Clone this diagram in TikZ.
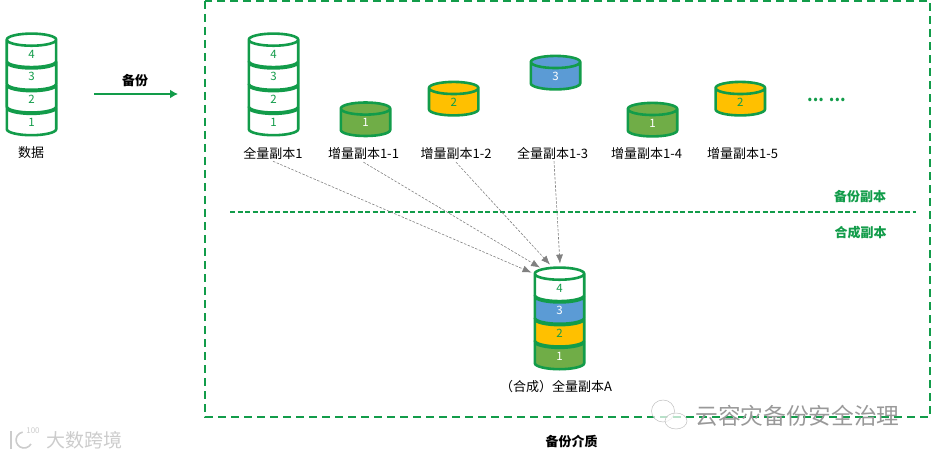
\documentclass[tikz,border=0pt]{standalone}
\usepackage{fontspec}
\setmainfont{Noto Sans CJK SC}
\usetikzlibrary{arrows.meta, positioning, shapes.geometric}

\definecolor{bkgreen}{HTML}{129C4A}
\definecolor{fullgreen}{HTML}{70AD47}
\definecolor{fullgold}{HTML}{FFC000}
\definecolor{fullblue}{HTML}{5B9BD5}

\begin{document}
\begin{tikzpicture}[
    x=1pt, y=-1pt,
    font=\fontsize{13}{15}\selectfont,
    layer/.style={
        draw=bkgreen, cylinder,
        shape border rotate=90,
        aspect=1.9,
        line width=2.6pt,
        minimum width=49.4pt,
        minimum height=33.5pt,
        inner sep=0pt, outer sep=0pt,
        fill=white, text=bkgreen,
        text height=8pt, text depth=0pt,
        font=\fontsize{11.5}{12}\selectfont
    },
    onegreen/.style={layer, fill=fullgreen, text=white},
    twogold/.style={layer, fill=fullgold},
    threeblue/.style={layer, fill=fullblue, text=white},
    stacked/.style={above=-10.8pt of #1},
    caption/.style={inner sep=0pt},
    heading/.style={inner sep=0pt, font=\fontsize{13}{15}\selectfont\bfseries},
    divider/.style={draw=bkgreen, line width=2pt},
    arrow/.style={-{Latex[length=9pt,width=7pt]}, draw=black!50, line width=0.6pt, dash pattern=on 2.5pt off 1.5pt},
    watermark/.style={inner sep=0pt, text=black!40},
    bubble/.style={draw=black!25, fill=white, fill opacity=0.7, ellipse, inner sep=0pt, line width=0.5pt}
]
\useasboundingbox (0,0) rectangle (931,457);

% ===== FRAME AND DIVIDER =====
\coordinate (frametl) at (205,1);
\coordinate (framebr) at (930,417);
\draw[divider, dash pattern=on 8pt off 5pt] (frametl) rectangle (framebr);
\coordinate (divleft) at (230,212);
\coordinate (divright) at (916,212);
\draw[divider, dash pattern=on 5pt off 2.5pt] (divleft) -- (divright);

% ===== SOURCE STACK =====
\node[layer, anchor=south] (d1) at (31.5,135.2) {1};
\node[layer, stacked=d1] (d2) {2};
\node[layer, stacked=d2] (d3) {3};
\node[layer, stacked=d3] (d4) {4};
\node[caption] (data) at (31,153) {数据};

% ===== BACKUP ARROW =====
\coordinate (bkfrom) at (94,94);
\coordinate (bkto) at (178,94);
\draw[-{Latex[length=8pt,width=9pt]}, draw=bkgreen, fill=bkgreen, line width=2pt] (bkfrom) -- (bkto);
\node[heading] (bk) at (135,81) {备份};

% ===== FULL COPY 1 =====
\node[layer, anchor=south] (f1) at (273.5,135.2) {1};
\node[layer, stacked=f1] (f2) {2};
\node[layer, stacked=f2] (f3) {3};
\node[layer, stacked=f3] (f4) {4};
\node[caption] (full) at (273,153) {全量副本1};

% ===== INCREMENTAL COPIES =====
\node[onegreen, anchor=south] (inca) at (365.5,136) {1};
\node[twogold, anchor=south] (incb) at (453.7,115.4) {2};
\node[threeblue, anchor=south] (incc) at (555.5,89.4) {3};
\node[onegreen, anchor=south] (incd) at (652.5,136.4) {1};
\node[twogold, anchor=south] (ince) at (740.3,115.4) {2};
\node[caption] (capa) at (363.5,154) {增量副本1-1};
\node[caption] (capb) at (456,154) {增量副本1-2};
\node[caption] (capc) at (552.5,153) {全量副本1-3};
\node[caption] (capd) at (646.5,154) {增量副本1-4};
\node[caption] (cape) at (742.5,154) {增量副本1-5};
\node[heading, text=bkgreen, font=\fontsize{16}{16}\selectfont\bfseries] (more) at (826.5,100) {... ...};

% ===== SECTION LABELS =====
\node[heading, text=bkgreen] (copies) at (860,197) {备份副本};
\node[heading, text=bkgreen] (merged) at (860.5,233) {合成副本};

% ===== MERGED STACK =====
\node[onegreen, anchor=south] (a1) at (559.5,369.2) {1};
\node[twogold, stacked=a1] (a2) {2};
\node[threeblue, stacked=a2] (a3) {3};
\node[layer, stacked=a3] (a4) {4};
\node[caption] (capm) at (556,387) {（合成）全量副本A};
\node[heading] (media) at (571.5,441.5) {备份介质};

% ===== CONNECTORS =====
\draw[arrow] (full.south) ++(0,2) -- ([xshift=-28pt,yshift=-5pt]a4.north);
\draw[arrow] (capa.south) ++(0,2) -- ([xshift=-19.5pt,yshift=0pt]a4.north);
\draw[arrow] (capb.south) ++(0,2) -- ([xshift=-9.5pt,yshift=3pt]a4.north);
\draw[arrow] (capc.south) ++(1.5,2) -- ([xshift=0.5pt,yshift=4pt]a4.north);

% ===== WATERMARKS =====
\node[bubble, minimum width=23pt, minimum height=22pt] (chatl) at (663,411) {};
\node[bubble, minimum width=22pt, minimum height=16pt] (chatr) at (676,421) {};
\node[watermark, font=\fontsize{22.7}{24}\selectfont] (brand) at (797.5,416) {云容灾备份安全治理};
\node[watermark, text=black!20, font=\fontsize{19}{21}\selectfont] (brandl) at (84,440) {大数跨境};
\node[watermark, text=black!20, font=\fontsize{8}{8}\selectfont] (logo) at (33,431) {100};
\coordinate (logot) at (11,431);
\coordinate (logob) at (11,449);
\draw[black!20, line width=1.6pt] (logot) -- (logob);
\draw[black!20, line width=1.6pt] (31,444) arc[start angle=330, end angle=100, radius=8pt];
\end{tikzpicture}
\end{document}
